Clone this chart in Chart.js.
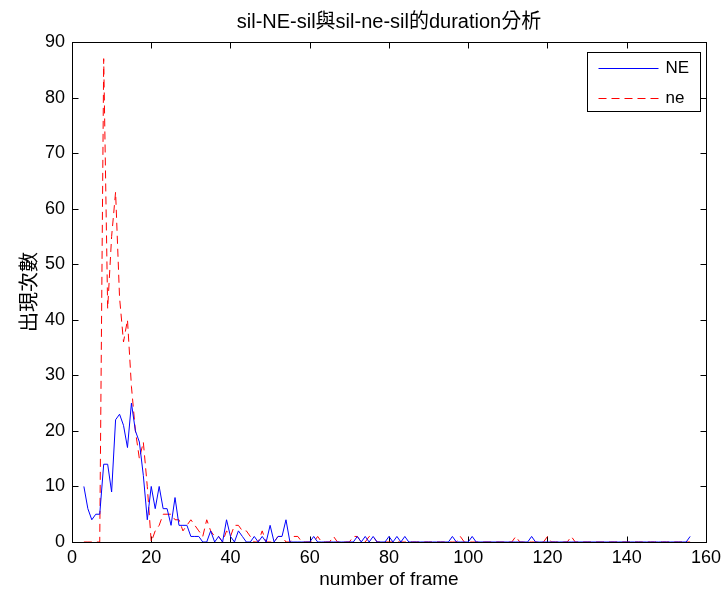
<!DOCTYPE html>
<html>
<head>
<meta charset="utf-8">
<script src="https://cdn.jsdelivr.net/npm/chart.js@4/dist/chart.umd.min.js"></script>
<style>
  body { margin: 0; background: #fff; }
  canvas { display: block; }
</style>
</head>
<body>
<canvas id="myChart" width="726" height="594"></canvas>
<script>
// number of frame (x)
var frames = [3,4,5,6,7,8,9,10,11,12,13,14,15,16,17,18,19,20,21,22,23,24,25,26,27,28,29,30,31,32,
  33,34,35,36,37,38,39,40,41,42,43,44,45,46,47,48,49,50,51,52,53,54,55,56,57,58,59,60,61,62,
  63,64,65,66,67,68,69,70,71,72,73,74,75,76,77,78,79,80,81,82,83,84,85,86,87,88,89,90,91,92,
  93,94,95,96,97,98,99,100,101,102,103,104,105,106,107,108,109,110,111,112,113,114,115,116,117,118,119,120,121,122,
  123,124,125,126,127,128,129,130,131,132,133,134,135,136,137,138,139,140,141,142,143,144,145,146,147,148,149,150,151,152,153,154,155,156];

// sil-NE-sil
var countNE = [10,6,4,5,5,14,14,9,22,23,21,17,25,20,18,12,4,10,6,10,6,6,3,8,3,3,3,1,1,1,
  0,0,2,0,1,0,4,1,0,2,1,0,0,1,0,1,0,3,0,1,1,4,0,0,0,0,0,0,1,0,
  0,0,0,0,0,0,0,0,0,1,0,1,0,1,0,0,0,1,0,1,0,1,0,0,0,0,0,0,0,0,
  0,0,0,1,0,0,0,0,1,0,0,0,0,0,0,0,0,0,0,0,0,0,0,1,0,0,0,0,0,0,
  0,0,0,0,0,0,0,0,0,0,0,0,0,0,0,0,0,0,0,0,0,0,0,0,0,0,0,0,0,0,0,0,0,1];

// sil-ne-sil
var countne = [0,0,0,0,0,87,42,55,63,44,36,40,28,20,15,18,10,0,2,3,5,5,5,4,4,2,3,4,3,2,
  1,4,2,1,1,0,2,1,3,3,2,2,1,0,0,2,0,0,0,1,1,0,0,1,1,0,0,0,0,1,
  0,0,0,1,0,0,0,0,1,1,0,0,1,1,0,0,0,0,0,0,0,0,0,0,0,0,0,0,0,0,
  0,0,0,0,0,1,0,0,0,0,0,0,0,0,0,0,0,0,0,1,0,0,0,0,0,0,0,1,0,0,
  0,0,0,1,0,0,0,0,0,0,0,0,0,0,0,0,0,0,0,0,0,0,0,0,0,0,0,0,0,0,0,0,0,0];

var xTicks = [0,20,40,60,80,100,120,140,160];
var yTicks = [0,10,20,30,40,50,60,70,80,90];

var blue = '#0000ff';
var red = '#ff0000';
var dash = [8, 5];

var fontFamily = "'Liberation Sans', 'Noto Sans CJK TC', sans-serif";
Chart.defaults.color = '#000';
Chart.defaults.font.family = fontFamily;

function toPoints(vals) {
  return vals.map(function(v, i) { return { x: frames[i], y: v }; });
}

// matlab style box with inward ticks + legend box
var boxPlugin = {
  id: 'box',
  beforeDatasetsDraw: function(chart) {
    var ctx = chart.ctx, a = chart.chartArea;
    var xs = chart.scales.x, ys = chart.scales.y;
    var l = Math.round(a.left) + 0.5, r = Math.round(a.right) + 0.5;
    var t = Math.round(a.top) + 0.5, b = Math.round(a.bottom) + 0.5;
    var len = 6;
    ctx.save();
    ctx.strokeStyle = '#000';
    ctx.lineWidth = 1;
    ctx.strokeRect(l, t, r - l, b - t);
    ctx.beginPath();
    xTicks.forEach(function(v) {
      var px = Math.round(xs.getPixelForValue(v)) + 0.5;
      ctx.moveTo(px, b); ctx.lineTo(px, b - len);
      ctx.moveTo(px, t); ctx.lineTo(px, t + len);
    });
    yTicks.forEach(function(v) {
      var py = Math.round(ys.getPixelForValue(v)) + 0.5;
      ctx.moveTo(l, py); ctx.lineTo(l + len, py);
      ctx.moveTo(r, py); ctx.lineTo(r - len, py);
    });
    ctx.stroke();
    ctx.restore();
  },
  afterDraw: function(chart) {
    var ctx = chart.ctx, a = chart.chartArea;
    var bw = 113, bh = 59;
    var bx = Math.round(a.right) - 119 + 0.5, by = Math.round(a.top) + 10 + 0.5;
    var entries = [
      { label: 'NE', color: blue, dash: [] },
      { label: 'ne', color: red, dash: dash }
    ];
    ctx.save();
    ctx.fillStyle = '#fff';
    ctx.fillRect(bx, by, bw, bh);
    ctx.strokeStyle = '#000';
    ctx.lineWidth = 1;
    ctx.strokeRect(bx, by, bw, bh);
    entries.forEach(function(e, i) {
      var y = by + 16 + i * 30;
      ctx.beginPath();
      ctx.strokeStyle = e.color;
      ctx.lineWidth = 1;
      ctx.setLineDash(e.dash);
      ctx.moveTo(bx + 11, y);
      ctx.lineTo(bx + 71, y);
      ctx.stroke();
      ctx.setLineDash([]);
      ctx.fillStyle = '#000';
      ctx.font = '17px ' + fontFamily;
      ctx.textBaseline = 'middle';
      ctx.fillText(e.label, bx + 78, y);
    });
    ctx.restore();
  }
};

const ctx = document.getElementById('myChart').getContext('2d');
const myChart = new Chart(ctx, {
  type: 'line',
  data: {
    datasets: [{
      label: 'NE',
      data: toPoints(countNE),
      borderColor: blue,
      borderWidth: 1,
      pointRadius: 0,
      tension: 0
    }, {
      label: 'ne',
      data: toPoints(countne),
      borderColor: red,
      borderWidth: 1,
      borderDash: dash,
      pointRadius: 0,
      tension: 0
    }]
  },
  options: {
    responsive: false,
    animation: false,
    layout: { padding: { top: 0, right: 18, left: 0, bottom: 0 } },
    scales: {
      x: {
        type: 'linear',
        min: 0,
        max: 160,
        afterBuildTicks: function(s) { s.ticks = xTicks.map(function(v) { return { value: v }; }); },
        afterFit: function(s) { s.height = 52; },
        grid: { display: false, drawTicks: false },
        border: { display: false },
        ticks: { padding: 5, font: { size: 18 }, maxRotation: 0 },
        title: { display: true, text: 'number of frame', font: { size: 19 }, padding: { top: 0, bottom: 3 } }
      },
      y: {
        min: 0,
        max: 90,
        afterBuildTicks: function(s) { s.ticks = yTicks.map(function(v) { return { value: v }; }); },
        afterFit: function(s) { s.width = 72; },
        grid: { display: false, drawTicks: false },
        border: { display: false },
        ticks: { padding: 7, font: { size: 18 } },
        title: { display: true, text: '出現次數', font: { size: 20 }, padding: { top: 18, bottom: 0 } }
      }
    },
    plugins: {
      legend: { display: false },
      tooltip: { enabled: false },
      title: {
        display: true,
        fullSize: false,
        text: 'sil-NE-sil與sil-ne-sil的duration分析',
        font: { size: 20, weight: 'normal' },
        padding: { top: 10, bottom: 8 }
      }
    }
  },
  plugins: [boxPlugin]
});
</script>
</body>
</html>
